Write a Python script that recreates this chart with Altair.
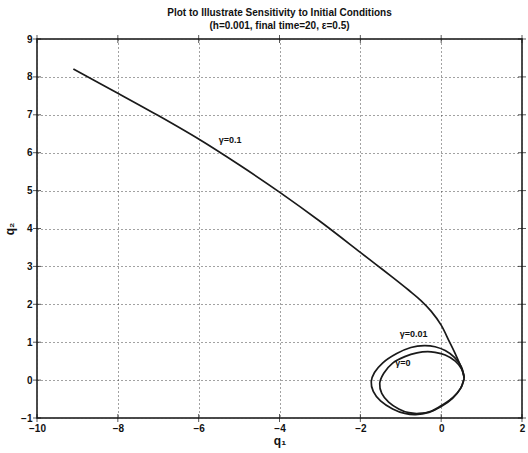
import altair as alt
import pandas as pd

# Trajectory for gamma = 0.1: leaves the loop at its right-hand point and runs off to the upper left
g01_q1 = [0.57, 0.55, 0.47, 0.35, 0.2, 0.0, -0.25, -0.5, -0.8, -1.2, -1.6, -2.0, -3.0, -4.0, -5.0, -6.0, -7.0, -8.0, -9.1]
g01_q2 = [0.05, 0.18, 0.4, 0.69, 1.02, 1.45, 1.82, 2.1, 2.37, 2.71, 3.04, 3.37, 4.19, 4.96, 5.68, 6.36, 6.98, 7.57, 8.21]

# Trajectory for gamma = 0.01: one slightly wider loop
g001_q1 = [0.57, 0.5, 0.33, 0.1, -0.15, -0.42, -0.75, -1.1, -1.45, -1.65, -1.73, -1.68, -1.5, -1.2, -0.9, -0.63, -0.3, 0.0, 0.28, 0.48, 0.57]
g001_q2 = [0.05, 0.35, 0.6, 0.78, 0.88, 0.91, 0.86, 0.7, 0.45, 0.2, -0.04, -0.3, -0.55, -0.76, -0.88, -0.91, -0.85, -0.7, -0.48, -0.22, 0.05]

# Trajectory for gamma = 0: closed orbit
g0_q1 = [0.57, 0.5, 0.35, 0.1, -0.15, -0.33, -0.6, -0.9, -1.2, -1.42, -1.52, -1.47, -1.3, -1.05, -0.8, -0.55, -0.25, 0.05, 0.3, 0.48, 0.57]
g0_q2 = [0.05, 0.3, 0.5, 0.66, 0.73, 0.75, 0.72, 0.62, 0.45, 0.18, -0.09, -0.35, -0.58, -0.76, -0.86, -0.88, -0.82, -0.64, -0.45, -0.22, 0.05]

# Curve labels
label_text = ["γ=0.1", "γ=0.01", "γ=0"]
label_q1 = [-5.22, -0.68, -0.95]
label_q2 = [6.34, 1.21, 0.44]

x_ticks = [-10, -8, -6, -4, -2, 0, 2]
y_ticks = [-1, 0, 1, 2, 3, 4, 5, 6, 7, 8, 9]

rows = []
for name, xs, ys in [("g0.1", g01_q1, g01_q2), ("g0.01", g001_q1, g001_q2), ("g0", g0_q1, g0_q2)]:
    for i, (a, b) in enumerate(zip(xs, ys)):
        rows.append({"series": name, "i": i, "q1": a, "q2": b})
traj = pd.DataFrame(rows)
labels = pd.DataFrame({"t": label_text, "q1": label_q1, "q2": label_q2})

FONT = "Liberation Sans"
xs = alt.Scale(domain=[-10, 2], nice=False, zero=False)
ys = alt.Scale(domain=[-1, 9], nice=False, zero=False)

common = dict(grid=True, gridDash=[1, 3], gridColor="#444", gridWidth=1, ticks=False, domain=False,
              labelFont=FONT, labelFontSize=10, labelFontWeight="bold", labelColor="#111",
              labelPadding=5, labelOverlap=False, labelFlush=False, titleFont=FONT,
              titleFontSize=12, titleFontWeight="bold", titleColor="#111")
x_axis = alt.Axis(values=x_ticks, title="q₁", titlePadding=2, **common)
y_axis = alt.Axis(values=y_ticks, title="q₂", titlePadding=4, **common)

lines = alt.Chart(traj).mark_line(interpolate="catmull-rom", color="#1a1a1a", strokeWidth=1.7).encode(
    x=alt.X("q1:Q", scale=xs, axis=x_axis),
    y=alt.Y("q2:Q", scale=ys, axis=y_axis),
    detail="series:N",
    order="i:Q",
)

text = alt.Chart(labels).mark_text(font=FONT, fontSize=9, fontWeight="bold", color="#111").encode(
    x=alt.X("q1:Q", scale=xs, axis=x_axis), y=alt.Y("q2:Q", scale=ys, axis=y_axis), text="t:N"
)

# Short inward tick marks along the frame
xt = pd.DataFrame({"v": x_ticks})
yt = pd.DataFrame({"v": y_ticks})
tick_bottom = alt.Chart(xt).mark_tick(orient="vertical", size=8, thickness=1, color="#111").encode(
    x=alt.X("v:Q", scale=xs, axis=x_axis), y=alt.value(379))
tick_top = alt.Chart(xt).mark_tick(orient="vertical", size=8, thickness=1, color="#111").encode(
    x=alt.X("v:Q", scale=xs, axis=x_axis), y=alt.value(0))
tick_left = alt.Chart(yt).mark_tick(orient="horizontal", size=8, thickness=1, color="#111").encode(
    y=alt.Y("v:Q", scale=ys, axis=y_axis), x=alt.value(0))
tick_right = alt.Chart(yt).mark_tick(orient="horizontal", size=8, thickness=1, color="#111").encode(
    y=alt.Y("v:Q", scale=ys, axis=y_axis), x=alt.value(485))

chart = alt.layer(lines, text, tick_bottom, tick_top, tick_left, tick_right).properties(
    width=485, height=379,
    title=alt.TitleParams(
        text=["Plot to Illustrate Sensitivity to Initial Conditions", "(h=0.001, final time=20, ε=0.5)"],
        font=FONT, fontSize=10, fontWeight="bold", color="#111", lineHeight=13, offset=3, anchor="middle",
    ),
    autosize=alt.AutoSizeParams(type="none"),
    padding={"left": 37, "top": 39, "right": 6, "bottom": 35},
    background="white",
).configure_view(stroke="#111", strokeWidth=1.5)

chart.save("out.html", embed_options={"renderer": "svg", "actions": False})
